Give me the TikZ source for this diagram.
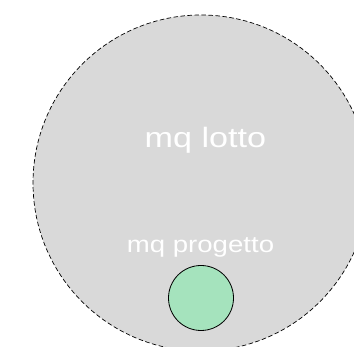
\documentclass[tikz,border=0pt]{standalone}
\usepackage{fontspec}
\setmainfont{Liberation Sans}
\newfontfamily\lotfont{Liberation Sans}[FakeStretch=1.22]
\newfontfamily\profont{Liberation Sans}[FakeStretch=1.2]
\definecolor{lotgray}{HTML}{D9D9D9}
\definecolor{progreen}{HTML}{A5E3BD}
\tikzset{
  lotcircle/.style={circle, fill=lotgray, draw=black, line width=0.7pt, dash pattern=on 4.5pt off 2.5pt},
  procircle/.style={circle, fill=progreen, draw=black, line width=0.8pt},
  whitelabel/.style={text=white, inner sep=0pt, anchor=base}
}
\begin{document}
\begin{tikzpicture}[x=1pt,y=-1pt]
\useasboundingbox (0,0) rectangle (354,347);
\begin{scope}
\clip (0,0) rectangle (354,347);
\node[lotcircle, minimum size=336pt, inner sep=0pt] (lotto) at (201,183) {};
\end{scope}
\node[procircle, minimum size=65pt, inner sep=0pt] (prog) at (201,298) {};
\node[whitelabel, font=\lotfont\fontsize{28}{32}\selectfont] (lotlabel) at (205.5,148) {mq lotto};
\node[whitelabel, font=\profont\fontsize{23}{26}\selectfont] (proglabel) at (200.5,253) {mq progetto};
\end{tikzpicture}
\end{document}
